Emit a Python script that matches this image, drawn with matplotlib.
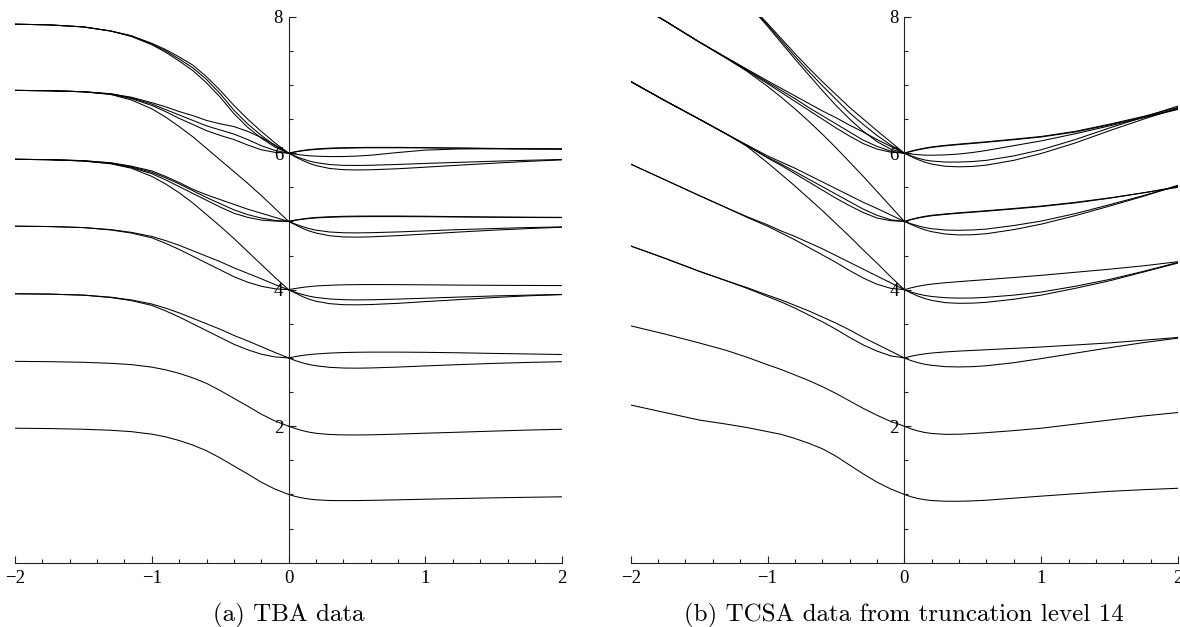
import numpy as np
import matplotlib
matplotlib.use("Agg")
import matplotlib.pyplot as plt
from matplotlib.ticker import FixedLocator

# x samples for the branches left and right of x=0
X_LEFT = [-2, -1.75, -1.5, -1.3, -1.15, -1, -0.9, -0.8, -0.7, -0.6, -0.5, -0.4, -0.3, -0.2, -0.1, 0]
X_RIGHT = [0, 0.05, 0.1, 0.15, 0.2, 0.3, 0.4, 0.5, 0.6, 0.8, 1, 1.25, 1.5, 1.75, 2]

# (a) TBA data, left branches
tba_left = [
    [1.97, 1.965, 1.955, 1.94, 1.92, 1.883, 1.844, 1.79, 1.723, 1.64, 1.534, 1.417, 1.301, 1.179, 1.078, 1.0],
    [2.95, 2.945, 2.936, 2.921, 2.902, 2.865, 2.826, 2.774, 2.708, 2.627, 2.522, 2.408, 2.294, 2.176, 2.076, 2.0],
    [3.94, 3.935, 3.92, 3.89, 3.85, 3.79, 3.73, 3.66, 3.58, 3.5, 3.42, 3.33, 3.25, 3.165, 3.08, 3.0],
    [3.94, 3.935, 3.92, 3.885, 3.84, 3.77, 3.69, 3.6, 3.5, 3.4, 3.3, 3.2, 3.12, 3.055, 3.015, 3.0],
    [4.93, 4.925, 4.91, 4.88, 4.84, 4.78, 4.72, 4.65, 4.57, 4.49, 4.41, 4.32, 4.24, 4.16, 4.075, 4.0],
    [4.93, 4.925, 4.91, 4.875, 4.83, 4.76, 4.68, 4.59, 4.49, 4.39, 4.29, 4.19, 4.11, 4.05, 4.013, 4.0],
    [5.91, 5.905, 5.885, 5.845, 5.78, 5.66, 5.55, 5.42, 5.27, 5.1, 4.93, 4.75, 4.56, 4.37, 4.18, 4.0],
    [5.91, 5.905, 5.89, 5.86, 5.81, 5.74, 5.66, 5.57, 5.47, 5.39, 5.32, 5.25, 5.18, 5.12, 5.06, 5.0],
    [5.91, 5.905, 5.89, 5.855, 5.8, 5.72, 5.64, 5.55, 5.45, 5.35, 5.26, 5.17, 5.1, 5.05, 5.015, 5.0],
    [5.91, 5.905, 5.885, 5.85, 5.79, 5.7, 5.61, 5.51, 5.41, 5.31, 5.21, 5.12, 5.06, 5.02, 5.005, 5.0],
    [6.92, 6.915, 6.9, 6.86, 6.78, 6.65, 6.53, 6.39, 6.24, 6.07, 5.9, 5.73, 5.56, 5.38, 5.19, 5.0],
    [6.92, 6.915, 6.9, 6.87, 6.82, 6.74, 6.68, 6.61, 6.55, 6.48, 6.43, 6.39, 6.32, 6.23, 6.12, 6.0],
    [6.92, 6.915, 6.9, 6.87, 6.81, 6.72, 6.64, 6.56, 6.48, 6.4, 6.34, 6.28, 6.2, 6.11, 6.04, 6.0],
    [6.92, 6.915, 6.9, 6.865, 6.8, 6.7, 6.61, 6.51, 6.42, 6.33, 6.26, 6.2, 6.12, 6.05, 6.012, 6.0],
    [7.89, 7.88, 7.85, 7.79, 7.72, 7.61, 7.52, 7.41, 7.29, 7.12, 6.92, 6.7, 6.5, 6.32, 6.15, 6.0],
    [7.89, 7.88, 7.85, 7.79, 7.72, 7.6, 7.5, 7.38, 7.25, 7.08, 6.87, 6.63, 6.43, 6.26, 6.11, 6.0],
    [7.89, 7.88, 7.85, 7.79, 7.71, 7.59, 7.48, 7.35, 7.21, 7.03, 6.82, 6.58, 6.38, 6.22, 6.09, 6.0],
]

# (a) TBA data, right branches
tba_right = [
    [1.0, 0.97, 0.948, 0.932, 0.921, 0.911, 0.909, 0.91, 0.913, 0.921, 0.93, 0.94, 0.95, 0.958, 0.965],
    [2.0, 1.965, 1.935, 1.912, 1.896, 1.878, 1.872, 1.871, 1.873, 1.884, 1.897, 1.912, 1.928, 1.943, 1.955],
    [3.0, 3.02, 3.036, 3.049, 3.058, 3.071, 3.079, 3.083, 3.085, 3.085, 3.082, 3.075, 3.066, 3.058, 3.05],
    [3.0, 2.96, 2.928, 2.903, 2.885, 2.862, 2.852, 2.85, 2.853, 2.866, 2.883, 2.902, 2.92, 2.934, 2.945],
    [4.0, 4.018, 4.033, 4.045, 4.054, 4.065, 4.071, 4.074, 4.075, 4.074, 4.071, 4.067, 4.064, 4.062, 4.06],
    [4.0, 3.96, 3.93, 3.905, 3.886, 3.864, 3.853, 3.85, 3.852, 3.862, 3.875, 3.892, 3.908, 3.92, 3.93],
    [4.0, 3.95, 3.9, 3.86, 3.83, 3.795, 3.78, 3.778, 3.782, 3.8, 3.825, 3.855, 3.885, 3.91, 3.928],
    [5.0, 5.02, 5.036, 5.049, 5.058, 5.069, 5.075, 5.078, 5.079, 5.079, 5.076, 5.07, 5.065, 5.062, 5.06],
    [5.0, 5.017, 5.031, 5.043, 5.051, 5.061, 5.067, 5.07, 5.071, 5.071, 5.069, 5.065, 5.061, 5.058, 5.056],
    [5.0, 4.96, 4.925, 4.895, 4.872, 4.845, 4.834, 4.832, 4.835, 4.846, 4.862, 4.88, 4.896, 4.91, 4.92],
    [5.0, 4.95, 4.9, 4.86, 4.83, 4.79, 4.773, 4.77, 4.774, 4.792, 4.815, 4.845, 4.872, 4.895, 4.915],
    [6.0, 6.022, 6.04, 6.053, 6.062, 6.074, 6.08, 6.083, 6.085, 6.085, 6.082, 6.076, 6.07, 6.065, 6.062],
    [6.0, 6.018, 6.034, 6.046, 6.055, 6.067, 6.073, 6.077, 6.079, 6.079, 6.077, 6.072, 6.067, 6.063, 6.06],
    [6.0, 5.985, 5.972, 5.962, 5.956, 5.95, 5.951, 5.958, 5.97, 6.01, 6.045, 6.062, 6.064, 6.062, 6.06],
    [6.0, 5.955, 5.917, 5.886, 5.862, 5.833, 5.822, 5.82, 5.823, 5.835, 5.85, 5.866, 5.882, 5.896, 5.908],
    [6.0, 5.945, 5.895, 5.852, 5.818, 5.776, 5.758, 5.754, 5.757, 5.772, 5.795, 5.825, 5.853, 5.88, 5.902],
]

# (b) TCSA data, left branches (values above 8 are cut by the frame)
tcsa_left = [
    [2.31, 2.2, 2.09, 2.03, 1.98, 1.92, 1.88, 1.82, 1.75, 1.67, 1.56, 1.43, 1.3, 1.18, 1.08, 1.0],
    [3.47, 3.35, 3.22, 3.11, 3.01, 2.9, 2.83, 2.75, 2.67, 2.58, 2.48, 2.37, 2.26, 2.16, 2.07, 2.0],
    [4.64, 4.46, 4.27, 4.13, 4.03, 3.92, 3.85, 3.77, 3.69, 3.6, 3.51, 3.41, 3.3, 3.2, 3.1, 3.0],
    [4.64, 4.46, 4.27, 4.13, 4.02, 3.9, 3.82, 3.73, 3.63, 3.53, 3.42, 3.3, 3.19, 3.1, 3.03, 3.0],
    [5.84, 5.61, 5.38, 5.2, 5.07, 4.95, 4.86, 4.78, 4.69, 4.6, 4.5, 4.4, 4.3, 4.2, 4.1, 4.0],
    [5.84, 5.61, 5.38, 5.2, 5.06, 4.93, 4.83, 4.73, 4.62, 4.51, 4.4, 4.28, 4.17, 4.08, 4.02, 4.0],
    [7.05, 6.77, 6.5, 6.28, 6.1, 5.86, 5.69, 5.52, 5.34, 5.16, 4.97, 4.78, 4.58, 4.39, 4.19, 4.0],
    [7.05, 6.77, 6.5, 6.28, 6.12, 5.96, 5.87, 5.78, 5.68, 5.58, 5.48, 5.38, 5.28, 5.19, 5.095, 5.0],
    [7.05, 6.77, 6.5, 6.28, 6.11, 5.94, 5.84, 5.73, 5.62, 5.51, 5.4, 5.29, 5.18, 5.09, 5.025, 5.0],
    [7.05, 6.77, 6.5, 6.28, 6.11, 5.93, 5.82, 5.7, 5.58, 5.46, 5.34, 5.23, 5.13, 5.05, 5.01, 5.0],
    [8.23, 7.94, 7.63, 7.39, 7.2, 6.98, 6.82, 6.65, 6.47, 6.28, 6.08, 5.87, 5.66, 5.44, 5.22, 5.0],
    [8.23, 7.94, 7.63, 7.4, 7.23, 7.06, 6.95, 6.84, 6.73, 6.62, 6.52, 6.41, 6.31, 6.2, 6.1, 6.0],
    [8.23, 7.94, 7.63, 7.4, 7.22, 7.04, 6.92, 6.8, 6.67, 6.55, 6.43, 6.31, 6.19, 6.1, 6.03, 6.0],
    [8.23, 7.94, 7.63, 7.39, 7.21, 7.02, 6.89, 6.76, 6.63, 6.5, 6.37, 6.25, 6.14, 6.06, 6.015, 6.0],
    [10.2, 9.6, 9.0, 8.55, 8.22, 7.9, 7.68, 7.46, 7.25, 7.05, 6.86, 6.67, 6.5, 6.33, 6.165, 6.0],
    [10.2, 9.6, 9.0, 8.55, 8.21, 7.88, 7.65, 7.42, 7.2, 6.99, 6.79, 6.59, 6.42, 6.26, 6.12, 6.0],
    [10.2, 9.6, 9.0, 8.54, 8.2, 7.86, 7.62, 7.38, 7.15, 6.92, 6.7, 6.5, 6.32, 6.17, 6.06, 6.0],
]

# (b) TCSA data, right branches
tcsa_right = [
    [1.0, 0.965, 0.94, 0.922, 0.91, 0.9, 0.9, 0.905, 0.915, 0.945, 0.975, 1.01, 1.045, 1.07, 1.09],
    [2.0, 1.96, 1.93, 1.907, 1.893, 1.88, 1.882, 1.892, 1.905, 1.935, 1.97, 2.03, 2.09, 2.15, 2.2],
    [3.0, 3.025, 3.045, 3.06, 3.072, 3.088, 3.1, 3.11, 3.12, 3.14, 3.16, 3.19, 3.22, 3.26, 3.3],
    [3.0, 2.96, 2.93, 2.907, 2.892, 2.872, 2.868, 2.872, 2.885, 2.93, 2.99, 3.07, 3.15, 3.225, 3.29],
    [4.0, 4.028, 4.05, 4.068, 4.082, 4.102, 4.118, 4.133, 4.148, 4.178, 4.21, 4.255, 4.3, 4.35, 4.41],
    [4.0, 3.965, 3.937, 3.915, 3.9, 3.882, 3.876, 3.878, 3.888, 3.92, 3.965, 4.05, 4.15, 4.27, 4.4],
    [4.0, 3.95, 3.905, 3.87, 3.843, 3.81, 3.8, 3.803, 3.815, 3.86, 3.92, 4.02, 4.13, 4.26, 4.39],
    [5.0, 5.03, 5.055, 5.075, 5.09, 5.11, 5.127, 5.142, 5.157, 5.19, 5.225, 5.28, 5.345, 5.42, 5.5],
    [5.0, 5.026, 5.049, 5.068, 5.083, 5.103, 5.12, 5.135, 5.15, 5.183, 5.218, 5.272, 5.34, 5.42, 5.51],
    [5.0, 4.965, 4.935, 4.91, 4.893, 4.874, 4.87, 4.875, 4.888, 4.94, 5.005, 5.115, 5.245, 5.38, 5.52],
    [5.0, 4.955, 4.912, 4.876, 4.85, 4.815, 4.802, 4.805, 4.82, 4.88, 4.96, 5.085, 5.225, 5.37, 5.53],
    [6.0, 6.03, 6.055, 6.075, 6.092, 6.115, 6.133, 6.15, 6.167, 6.205, 6.245, 6.32, 6.425, 6.54, 6.67],
    [6.0, 6.026, 6.049, 6.068, 6.085, 6.108, 6.126, 6.143, 6.16, 6.197, 6.237, 6.31, 6.415, 6.53, 6.65],
    [6.0, 5.988, 5.978, 5.972, 5.97, 5.975, 5.988, 6.01, 6.04, 6.11, 6.18, 6.285, 6.4, 6.52, 6.64],
    [6.0, 5.96, 5.926, 5.9, 5.885, 5.87, 5.87, 5.878, 5.895, 5.96, 6.05, 6.2, 6.37, 6.53, 6.69],
    [6.0, 5.95, 5.905, 5.868, 5.84, 5.808, 5.8, 5.806, 5.825, 5.895, 5.995, 6.15, 6.33, 6.5, 6.66],
]

captions = ["(a) TBA data", "(b) TCSA data from truncation level 14"]

XTICKS = [-2, -1, 0, 1, 2]
XLABELS = ["\u22122", "\u22121", "0", "1", "2"]
YTICKS = [2, 4, 6, 8]

fig = plt.figure(figsize=(11.8, 6.27), dpi=100)
axes = [fig.add_axes([0.0127, 0.1026, 0.4638, 0.8708]),
        fig.add_axes([0.5345, 0.1026, 0.4638, 0.8708])]

for ax, left, right, cap in zip(axes, [tba_left, tcsa_left],
                                [tba_right, tcsa_right], captions):
    for ys in left:
        ax.plot(X_LEFT, ys, color="black", lw=0.75)
    for ys in right:
        ax.plot(X_RIGHT, ys, color="black", lw=0.75)

    ax.set_xlim(-2, 2)
    ax.set_ylim(0, 8)
    for s in ["top", "right"]:
        ax.spines[s].set_visible(False)
    ax.spines["left"].set_position(("data", 0))
    for s in ["left", "bottom"]:
        ax.spines[s].set_linewidth(0.8)
        ax.spines[s].set_color("#222222")

    ax.set_xticks(XTICKS)
    ax.set_xticklabels(XLABELS)
    ax.xaxis.set_minor_locator(FixedLocator(np.arange(-2, 2.01, 0.2)))
    ax.set_yticks(YTICKS)
    ax.yaxis.set_minor_locator(FixedLocator(np.arange(0.5, 8, 0.5)))
    ax.tick_params(which="both", direction="in", color="#222222", width=0.8)
    ax.tick_params(which="major", length=5)
    ax.tick_params(which="minor", length=2.6)
    ax.tick_params(axis="x", pad=5)
    ax.tick_params(axis="y", pad=4)
    for lab in ax.get_xticklabels() + ax.get_yticklabels():
        lab.set_fontfamily("Liberation Serif")
        lab.set_fontsize(13.5)

    # caption under each panel
    ax.text(0, -0.86, cap, transform=ax.transData, ha="center", va="baseline",
            fontfamily="cmr10", fontsize=18, clip_on=False)

fig.savefig("out.png", dpi=100)
